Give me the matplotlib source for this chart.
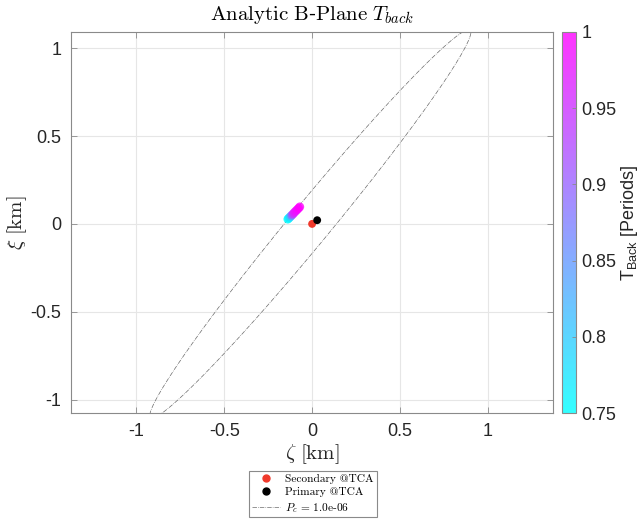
import numpy as np
import matplotlib
matplotlib.use("Agg")
import matplotlib.pyplot as plt
from matplotlib.lines import Line2D

plt.rcParams['mathtext.fontset'] = 'cm'
plt.rcParams['font.family'] = ['Liberation Sans', 'DejaVu Sans']
plt.rcParams['axes.unicode_minus'] = False

# ---- data ----
t_back = [0.75, 0.76, 0.78, 0.82, 0.90, 0.95, 0.97, 0.98, 0.99, 1.00, 1.00]
zeta_pts = [-0.138, -0.133, -0.127, -0.121, -0.115, -0.108, -0.101, -0.093, -0.085, -0.077, -0.070]
xi_pts = [0.027, 0.032, 0.038, 0.044, 0.050, 0.057, 0.065, 0.073, 0.081, 0.089, 0.097]
secondary = (0.0, 0.0)
primary = (0.029, 0.021)
ell_center = (-0.01, 0.0)
ell_semi_major = 1.43
ell_semi_minor = 0.115
ell_angle_deg = 50.5
pc_label = r'$P_c$ = 1.0e-06'
xticks = [-1, -0.5, 0, 0.5, 1]
yticks = [-1, -0.5, 0, 0.5, 1]
cticks = [0.75, 0.8, 0.85, 0.9, 0.95, 1]

fig = plt.figure(figsize=(6.43, 5.21), dpi=100)
ax = fig.add_axes([71/643, 1-413/521, 482/643, 381/521])
cax = fig.add_axes([562/643, 1-413/521, 14/643, 381/521])

spine_c = '#8a8a8a'
txt_c = '#262626'

# Pc ellipse
th = np.radians(ell_angle_deg)
t = np.linspace(0, 2*np.pi, 400)
ex = ell_center[0] + ell_semi_major*np.cos(t)*np.cos(th) - ell_semi_minor*np.sin(t)*np.sin(th)
ey = ell_center[1] + ell_semi_major*np.cos(t)*np.sin(th) + ell_semi_minor*np.sin(t)*np.cos(th)
ax.plot(ex, ey, linestyle='-.', color='#6a6a6a', lw=0.5, zorder=2)

sc = ax.scatter(zeta_pts, xi_pts, c=t_back, cmap='cool', vmin=0.75, vmax=1.0, s=40,
                edgecolors='none', alpha=0.8, zorder=3)
ax.scatter([secondary[0]], [secondary[1]], color='#f0392b', s=32, edgecolors='none', zorder=4)
ax.scatter([primary[0]], [primary[1]], color='black', s=32, edgecolors='none', zorder=4)

ax.set_xlim(-1.372, 1.371)
ax.set_ylim(-1.076, 1.092)
ax.set_xticks(xticks)
ax.set_yticks(yticks)
ax.set_xticklabels([f'{v:g}' for v in xticks])
ax.set_yticklabels([f'{v:g}' for v in yticks])
ax.grid(True, color='#e6e6e6', lw=0.8)
ax.set_axisbelow(True)
ax.tick_params(direction='in', length=4, width=0.6, color=spine_c, labelsize=13,
               labelcolor=txt_c, top=True, right=True, pad=7)
for s in ax.spines.values():
    s.set_color(spine_c)
    s.set_linewidth(0.8)

ax.set_xlabel(r'$\zeta\ \mathrm{[km]}$', fontsize=15, color=txt_c, labelpad=2)
ax.set_ylabel(r'$\xi\ \mathrm{[km]}$', fontsize=15, color=txt_c, labelpad=1)
ax.set_title(r'$\mathrm{Analytic\ B}$-$\mathrm{Plane}\ T_{back}$', fontsize=15, color='black', pad=9)

cb = fig.colorbar(sc, cax=cax)
cb.set_ticks(cticks)
cb.set_ticklabels([f'{v:g}' for v in cticks])
cb.ax.tick_params(direction='in', length=3, width=0.6, color=spine_c, labelsize=13,
                  labelcolor=txt_c, pad=4)
cb.outline.set_edgecolor(spine_c)
cb.outline.set_linewidth(0.8)
cb.set_label(r'$\mathregular{T_{Back}}$ [Periods]', fontsize=13, color=txt_c, labelpad=2)

handles = [
    Line2D([], [], marker='o', linestyle='none', color='#f0392b', markersize=5),
    Line2D([], [], marker='o', linestyle='none', color='black', markersize=5),
    Line2D([], [], linestyle='-.', color='#6a6a6a', lw=0.5),
]
labels = ['Secondary @TCA', 'Primary @TCA', pc_label]
leg = fig.legend(handles, labels, loc='upper center', bbox_to_anchor=(313/643, 1-471/521),
                 fancybox=False, framealpha=1, edgecolor=spine_c, handlelength=2.4,
                 borderpad=0.25, labelspacing=0.3, handletextpad=0.5, borderaxespad=0,
                 prop={'family': 'cmr10', 'size': 8.2})
leg.get_frame().set_linewidth(0.8)

fig.savefig('out.png', dpi=100)
